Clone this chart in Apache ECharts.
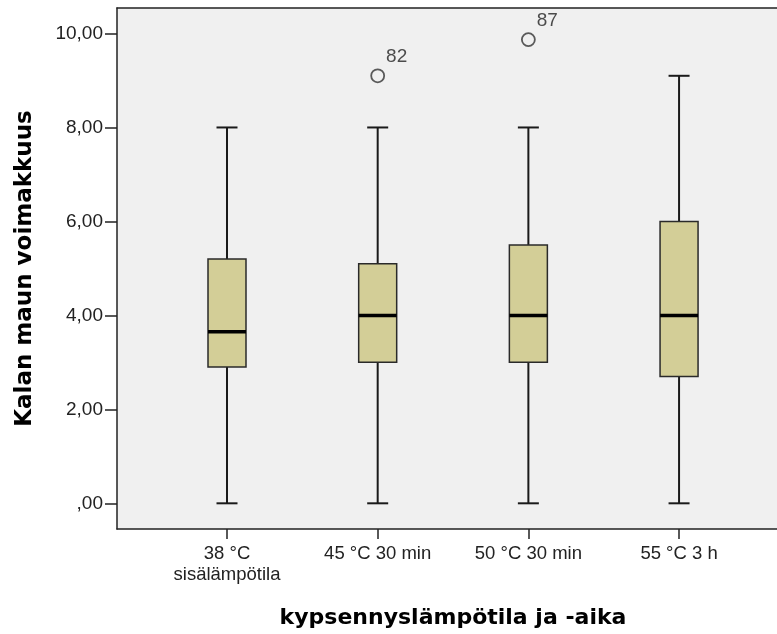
<!DOCTYPE html>
<html>
<head>
<meta charset="utf-8">
<script src="https://cdn.jsdelivr.net/npm/echarts@6/dist/echarts.min.js"></script>
<style>
  html, body { margin: 0; padding: 0; background: #ffffff; }
  #chart { width: 777px; height: 634px; }
</style>
</head>
<body>
<div id="chart"></div>
<script>
// Fish flavour intensity by cooking temperature / time (box plot)
const categories = ['38 °C\nsisälämpötila', '45 °C 30 min', '50 °C 30 min', '55 °C 3 h'];
const whiskerLow  = [0, 0, 0, 0];
const quartile1   = [2.9, 3.0, 3.0, 2.7];
const median      = [3.65, 4.0, 4.0, 4.0];
const quartile3   = [5.2, 5.1, 5.5, 6.0];
const whiskerHigh = [8.0, 8.0, 8.0, 9.1];

// Outliers: group index, value, case number
const outlierGroup = [1, 2];
const outlierValue = [9.1, 9.87];
const outlierCase  = ['82', '87'];

const yTicks = [0, 2, 4, 6, 8, 10];
const xTicks = [0, 1, 2, 3];

const chart = echarts.init(document.getElementById('chart'), null, { renderer: 'canvas' });

const boxData = categories.map((c, i) => [i, whiskerLow[i], quartile1[i], median[i], quartile3[i], whiskerHigh[i]]);
const outlierData = outlierGroup.map((g, k) => [g, outlierValue[k], outlierCase[k]]);

function renderBox(params, api) {
  const i = api.value(0);
  const lo = api.coord([i, api.value(1)]);
  const q1 = api.coord([i, api.value(2)]);
  const md = api.coord([i, api.value(3)]);
  const q3 = api.coord([i, api.value(4)]);
  const hi = api.coord([i, api.value(5)]);
  const x = lo[0];
  const hw = 19;   // half box width
  const cw = 10.5; // half cap width
  const line = (x1, y1, x2, y2, w, c) => ({
    type: 'line',
    shape: { x1, y1, x2, y2 },
    style: { stroke: c, lineWidth: w }
  });
  return {
    type: 'group',
    children: [
      line(x, hi[1], x, q3[1], 2, '#1a1a1a'),
      line(x, q1[1], x, lo[1], 2, '#1a1a1a'),
      line(x - cw, hi[1], x + cw, hi[1], 2, '#1a1a1a'),
      line(x - cw, lo[1], x + cw, lo[1], 2, '#1a1a1a'),
      {
        type: 'rect',
        shape: { x: x - hw, y: q3[1], width: hw * 2, height: q1[1] - q3[1] },
        style: { fill: '#d3ce97', stroke: '#2a2a2a', lineWidth: 1.5 }
      },
      line(x - hw, md[1], x + hw, md[1], 3.5, '#000000')
    ]
  };
}

const textColor = '#222222';
const frameColor = '#222222';

chart.setOption({
  animation: false,
  backgroundColor: '#ffffff',
  grid: {
    left: 117,
    top: 8,
    right: 0,
    bottom: 105,
    show: true,
    backgroundColor: '#f0f0f0',
    borderWidth: 0
  },
  xAxis: [
    {
      type: 'value',
      position: 'bottom',
      min: -0.73,
      max: 3.65,
      name: 'kypsennyslämpötila ja -aika',
      nameLocation: 'middle',
      nameGap: 78,
      nameTextStyle: {
        fontFamily: 'DejaVu Sans', fontWeight: 'bold', fontSize: 22, color: '#000',
        padding: [0, 0, 0, 12]
      },
      axisLine: { show: true, onZero: false, lineStyle: { color: frameColor, width: 1.5 } },
      axisTick: { show: true, customValues: xTicks, length: 10, lineStyle: { color: frameColor, width: 1.5 } },
      axisLabel: {
        customValues: xTicks,
        formatter: v => categories[v] || '',
        fontFamily: 'Liberation Sans',
        fontSize: 18.5,
        lineHeight: 21,
        color: textColor,
        margin: 14
      },
      splitLine: { show: false }
    },
    {
      // top frame line of the plot area
      type: 'value',
      position: 'top',
      min: -0.73,
      max: 3.65,
      axisLine: { show: true, onZero: false, lineStyle: { color: frameColor, width: 1.5 } },
      axisTick: { show: false },
      axisLabel: { show: false },
      splitLine: { show: false }
    }
  ],
  yAxis: {
    type: 'value',
    min: -0.547,
    max: 10.543,
    name: 'Kalan maun voimakkuus',
    nameLocation: 'middle',
    nameRotate: 90,
    nameGap: 80,
    nameTextStyle: { fontFamily: 'DejaVu Sans', fontWeight: 'bold', fontSize: 23, color: '#000' },
    axisLine: { show: true, onZero: false, lineStyle: { color: frameColor, width: 1.5 } },
    axisTick: { show: true, customValues: yTicks, length: 12, lineStyle: { color: frameColor, width: 1.5 } },
    axisLabel: {
      customValues: yTicks,
      formatter: v => (v === 0 ? ',00' : v.toFixed(2).replace('.', ',')),
      fontFamily: 'Liberation Sans',
      fontSize: 19,
      color: textColor,
      margin: 14
    },
    splitLine: { show: false }
  },
  series: [
    {
      type: 'custom',
      renderItem: renderBox,
      data: boxData,
      encode: { x: 0, y: [1, 2, 3, 4, 5] },
      z: 2
    },
    {
      type: 'scatter',
      data: outlierData,
      symbol: 'circle',
      symbolSize: 13,
      itemStyle: { color: '#f0f0f0', borderColor: '#333333', borderWidth: 1.8 },
      label: {
        show: true,
        position: 'inside',
        offset: [19, -19],
        formatter: p => p.data[2],
        fontFamily: 'Liberation Sans',
        fontSize: 19,
        color: textColor
      },
      z: 3
    }
  ]
});
</script>
</body>
</html>
